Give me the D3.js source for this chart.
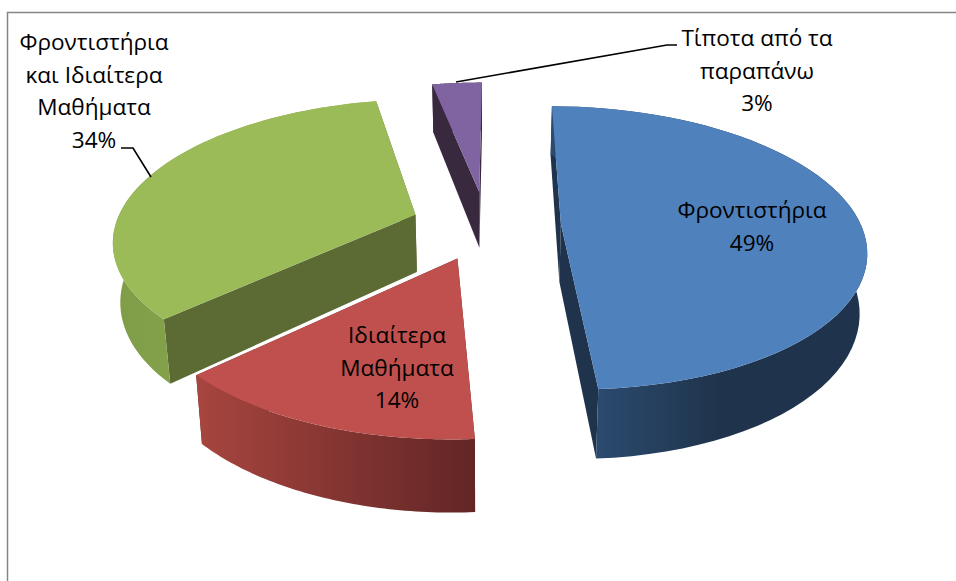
<!DOCTYPE html>
<html><head><meta charset="utf-8">
<script src="https://cdn.jsdelivr.net/npm/d3@7/dist/d3.min.js"></script>
<style>html,body{margin:0;padding:0;background:#fff}svg{display:block}</style>
</head><body><svg id="c" width="956" height="581"></svg>
<script>
const categories = ["Φροντιστήρια","Ιδιαίτερα Μαθήματα","Φροντιστήρια και Ιδιαίτερα Μαθήματα","Τίποτα από τα παραπάνω"];
const values = [48.9, 13.9, 34.0, 3.2];
const percentLabels = ["49%","14%","34%","3%"];
const topColors = ["#4f81bd","#c0504d","#9bbb59","#8064a2"];
const wallColors = ["#1f344c","#5f2726","#5b6b33","#38293f"];
const rimStops = [["#2b4a6e","#1f344c"],["#a8453f","#612625"],["#7f9c47","#94b354"],["#38293f","#38293f"]];
const drawOrder = [3,2,1,0];

// Perspective camera fitted to the picture
const cam = {vx:486, vy:-596, S:300, H:821, c:0.168, Z:58, narrow:0.98, explode:0.25, start:0.4};
function proj(gx, gy, low){
  const w = 1 + cam.c*gy;
  const k = low ? cam.narrow : 1;
  return [cam.vx + k*cam.S*gx/w, cam.vy + (cam.H + (low?cam.Z:0))/w];
}
const svg = d3.select("#c");
const defs = svg.append("defs");
const line = d3.line();
const a0 = cam.start*Math.PI/180;
const arcs = d3.pie().sort(null).value(d=>d).startAngle(a0).endAngle(a0+2*Math.PI)(values);

// chart frame
svg.append("path").attr("d", "M7.5,581V12.5H956").attr("fill","none").attr("stroke","#868686").attr("stroke-width",1.5);

drawOrder.forEach(i=>{
  const a = arcs[i], mid = (a.startAngle+a.endAngle)/2;
  const ox = cam.explode*Math.sin(mid), oy = cam.explode*Math.cos(mid);
  const ts = d3.range(0,61).map(j=>a.startAngle+(a.endAngle-a.startAngle)*j/60);
  const rim = low => ts.map(t=>proj(ox+Math.sin(t),oy+Math.cos(t),low));
  const apexT = proj(ox,oy,false), apexB = proj(ox,oy,true);
  const top = rim(false), bot = rim(true);
  const g = svg.append("g").attr("class","slice").attr("data-name",categories[i]);
  // radial walls
  [[top[0],bot[0]],[top[60],bot[60]]].forEach(([p,q])=>{
    g.append("path").attr("d",line([apexT,p,q,apexB])+"Z").attr("fill",wallColors[i]);
  });
  // outer wall with horizontal shading
  const xs = top.concat(bot).map(p=>p[0]);
  const gid = "rim"+i;
  const lg = defs.append("linearGradient").attr("id",gid).attr("gradientUnits","userSpaceOnUse")
    .attr("x1", i===0?597:d3.min(xs)).attr("x2", i===0?720:d3.max(xs)).attr("y1",0).attr("y2",0);
  lg.append("stop").attr("offset",0).attr("stop-color",rimStops[i][0]);
  lg.append("stop").attr("offset",1).attr("stop-color",rimStops[i][1]);
  g.append("path").attr("d",line(top.concat(bot.slice().reverse()))+"Z").attr("fill",`url(#${gid})`);
  // top face
  g.append("path").attr("d",line([apexT].concat(top))+"Z").attr("fill",topColors[i]);
});

// leader lines
const leaders = [[[456,82],[667,45],[677,45]],[[121,148],[133,148],[151,177]]];
svg.selectAll("path.leader").data(leaders).join("path").attr("class","leader")
  .attr("d",d=>line(d)).attr("fill","none").attr("stroke","#000").attr("stroke-width",1.6);

// labels
const labelBlocks = [
  {x:752,y:218,lines:["Φροντιστήρια",percentLabels[0]]},
  {x:397,y:343,lines:["Ιδιαίτερα","Μαθήματα",percentLabels[1]]},
  {x:94,y:50,lines:["Φροντιστήρια","και Ιδιαίτερα","Μαθήματα",percentLabels[2]]},
  {x:757,y:46,lines:["Τίποτα από τα","παραπάνω",percentLabels[3]]}
];
labelBlocks.forEach(b=>{
  const t = svg.append("text").attr("text-anchor","middle").attr("font-family","'Open Sans',sans-serif").attr("font-size",22.6).attr("fill","#000");
  b.lines.forEach((s,j)=>t.append("tspan").attr("x",b.x).attr("y",b.y+j*32.5).text(s));
});
</script></body></html>
